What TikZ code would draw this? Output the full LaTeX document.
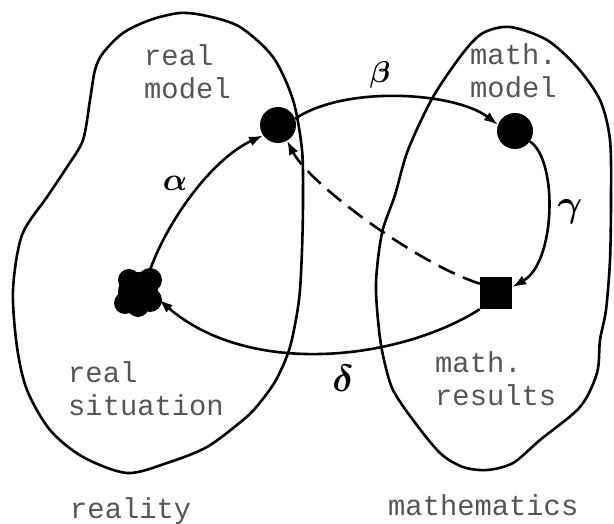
\documentclass[tikz,border=0pt]{standalone}
\usepackage{fontspec}
\setmonofont{Liberation Mono}
\usetikzlibrary{arrows.meta}
\definecolor{labelgray}{HTML}{555555}
\tikzset{
  dot/.style={circle,fill=black,inner sep=0pt,minimum size=36pt},
  sq/.style={rectangle,fill=black,inner sep=0pt,minimum size=32pt},
  blob/.style={line width=2.6pt,line join=round},
  conn/.style={line width=2.6pt,-{Latex[length=14pt,width=10pt]}},
  lbl/.style={inner sep=0pt,anchor=base west,text=labelgray,font=\ttfamily\fontsize{28.8}{33}\selectfont,align=left},
  glabel/.style={inner sep=0pt,font=\boldmath}
}
\begin{document}
\begin{tikzpicture}[x=1pt,y=-1pt]
\useasboundingbox (0,0) rectangle (614,524);
\fill[white] (0,0) rectangle (614,524);
% reality blob
\draw[blob] plot[smooth cycle] coordinates {(180,13) (207,16) (240,27) (273,57) (293,100) (302,150) (303,200) (302,250) (299,300) (290,347) (276,380) (258,405) (243,420) (207,447) (167,463) (127,473) (83,457) (50,430) (27,390) (17,347) (13,290) (22,235) (47,197) (67,167) (83,140) (90,100) (95,70) (103,53) (123,33) (150,20)};
% mathematics blob
\draw[blob] plot[smooth cycle] coordinates {(510,27) (547,40) (577,67) (600,100) (610,140) (611,200) (610,260) (606,310) (600,340) (597,373) (580,407) (540,440) (513,463) (487,470) (463,467) (440,453) (413,420) (393,390) (384,360) (379,330) (376,283) (382,233) (395,195) (408,150) (433,97) (463,53) (483,33)};
% nodes
\node[dot] (rm) at (278,125) {};
\node[dot] (mm) at (515,131) {};
\node[sq] (mr) at (496,293) {};
\node[circle,inner sep=0pt,minimum size=44pt] (rs) at (138,292) {};
\fill ([shift={(0,0)}]rs.center) circle (20pt);
\fill ([shift={(-9,-12)}]rs.center) circle (11pt);
\fill ([shift={(12,-12)}]rs.center) circle (12pt);
\fill ([shift={(-13,11)}]rs.center) circle (11pt);
\fill ([shift={(12,8)}]rs.center) circle (12pt);
\fill ([shift={(0,14)}]rs.center) circle (11pt);
% connectors
\draw[conn] (rs.60) .. controls (165,225) and (210,160) .. (rm.215);
\draw[conn] (rm.20) .. controls (345,85) and (455,92) .. (mm.160);
\draw[conn] (mm.-35) .. controls (558,160) and (556,262) .. (mr.20);
\draw[conn] (mr.-135) .. controls (400,360) and (250,378) .. (rs.-20);
\draw[conn,dash pattern=on 18pt off 9pt] (mr.150) .. controls (420,265) and (310,185) .. (rm.-60);
% greek labels
\node[glabel,scale=3.2] (la) at (175,183) {$\alpha$};
\node[glabel,scale=3] (lb) at (380,75) {$\beta$};
\node[glabel,scale=3.8] (lg) at (570,212) {$\gamma$};
\node[glabel,scale=3.8] (ld) at (343,378) {$\delta$};
% text labels
\node[lbl] (t1) at (144,99) {real\\model};
\node[lbl] (t2) at (470,98) {math.\\model};
\node[lbl] (t3) at (435,405) {math.\\results};
\node[lbl] (t4) at (68,415) {real\\situation};
\node[lbl] (t5) at (70,518) {reality};
\node[lbl] (t6) at (388,515) {mathematics};
\end{tikzpicture}
\end{document}
